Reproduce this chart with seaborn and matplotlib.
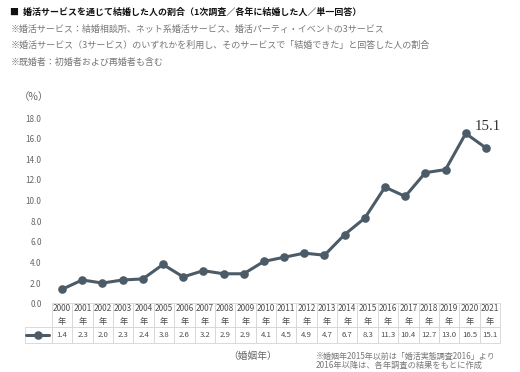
import matplotlib
matplotlib.use("Agg")
import matplotlib.pyplot as plt
import seaborn as sns
import pandas as pd
import numpy as np

years = [2000, 2001, 2002, 2003, 2004, 2005, 2006, 2007, 2008, 2009, 2010,
         2011, 2012, 2013, 2014, 2015, 2016, 2017, 2018, 2019, 2020, 2021]
values = [1.4, 2.3, 2.0, 2.3, 2.4, 3.8, 2.6, 3.2, 2.9, 2.9, 4.1,
          4.5, 4.9, 4.7, 6.7, 8.3, 11.3, 10.4, 12.7, 13.0, 16.5, 15.1]
yticks = [0, 2, 4, 6, 8, 10, 12, 14, 16, 18]

title = "■  婚活サービスを通じて結婚した人の割合（1次調査／各年に結婚した人／単一回答）"
notes = ["※婚活サービス：結婚相談所、ネット系婚活サービス、婚活パーティ・イベントの3サービス",
         "※婚活サービス（3サービス）のいずれかを利用し、そのサービスで「結婚できた」と回答した人の割合",
         "※既婚者：初婚者および再婚者も含む"]
xlabel = "（婚姻年）"
footnote = ["※婚姻年2015年以前は「婚活実態調査2016」より", "2016年以降は、各年調査の結果をもとに作成"]
annot_text = "15.1"
unit_label = "（%）"

sns.set_theme(style="white")
plt.rcParams['font.family'] = ['Noto Sans CJK JP', 'DejaVu Sans']

W, H = 520, 372
fig = plt.figure(figsize=(W / 100, H / 100), dpi=100)
fig.patch.set_facecolor("white")
renderer = fig.canvas.get_renderer()


def fx(px):
    return px / W


def fy(py):
    return 1 - py / H


def fit_size(text, target_px, **kw):
    t = fig.text(0, 0, text, fontsize=10, **kw)
    w = t.get_window_extent(renderer).width
    t.remove()
    return 10 * target_px / w


def put(x0, x1, yc, text, color, **kw):
    fs = fit_size(text, x1 - x0, **kw)
    fig.text(fx(x0), fy(yc), text, fontsize=fs, color=color, ha="left", va="center", **kw)


line_color = "#4b5b67"

# main axes
left_px, right_px = 52, 496
top_px, bottom_px = 118, 303.7
ax = fig.add_axes([fx(left_px), fy(bottom_px), fx(right_px - left_px), (bottom_px - top_px) / H])
df = pd.DataFrame({"idx": np.arange(len(years)), "value": values})
sns.lineplot(data=df, x="idx", y="value", ax=ax, color=line_color, linewidth=2.2,
             marker="o", markersize=6.2, markeredgewidth=0, clip_on=False)
ax.set_xlim(-0.5, len(years) - 0.5)
ax.set_ylim(0, 18)
ax.set_yticks(yticks)
tick_fs = fit_size("18.0", 16)
ax.set_yticklabels([f"{v:.1f}" for v in yticks], fontsize=tick_fs, color="#666666")
ax.set_xticks([])
ax.set_xlabel("")
ax.set_ylabel("")
ax.tick_params(axis="y", length=0, pad=7.5)
sns.despine(ax=ax, left=True, bottom=True)
ax.patch.set_alpha(0)

serif = ["Liberation Serif", "DejaVu Serif"]
ann_fs = fit_size(annot_text, 26, family=serif)
ax.annotate(annot_text, xy=(20.45, 17.15), ha="left", va="center",
            fontsize=ann_fs, color="#333333", family=serif)

# (%) label
fig.text(fx(19), fy(97), unit_label, fontsize=7.5, color="#666666", ha="left", va="center")

# header texts
put(10, 360, 12, title, "#111111", fontweight="bold")
note_ends = [385, 432, 163]
note_ys = [29, 45.5, 62]
for t, xe, yc in zip(notes, note_ends, note_ys):
    put(10.7, xe, yc, t, "#777777")

# data table
tab_left, tab_right = 25, 500
tab_top, tab_bottom = 303, 343
tax = fig.add_axes([fx(tab_left), fy(tab_bottom), fx(tab_right - tab_left), (tab_bottom - tab_top) / H])
tax.axis("off")
first_w = 27
col_w = (tab_right - tab_left - first_w) / len(years)
colWidths = [first_w / (tab_right - tab_left)] + [col_w / (tab_right - tab_left)] * len(years)
cell_text = [[""] + [f"{v:.1f}" for v in values]]
col_labels = [""] + [f"{y}\n年" for y in years]
table = tax.table(cellText=cell_text, colLabels=col_labels, colWidths=colWidths,
                  bbox=[0, 0, 1, 1], cellLoc="center")
table.auto_set_font_size(False)
year_fs = fit_size("2017", 18.3)
val_fs = 5.6
for (r, c), cell in table.get_celld().items():
    cell.set_edgecolor("#d4d4d4")
    cell.set_linewidth(0.6)
    cell.set_height(0.6 if r == 0 else 0.4)
    txt = cell.get_text()
    txt.set_color("#4d4d4d")
    if r == 0:
        txt.set_fontsize(year_fs)
        txt.set_linespacing(1.45)
    else:
        txt.set_fontsize(val_fs)
    if r == 0 and c == 0:
        cell.visible_edges = "open"

# legend symbol in table
x0 = 1 / (tab_right - tab_left)
x1 = (first_w - 3) / (tab_right - tab_left)
tax.set_xlim(0, 1)
tax.set_ylim(0, 1)
tax.plot([x0, (x0 + x1) / 2, x1], [0.2, 0.2, 0.2], color=line_color, linewidth=2.2,
         marker="o", markersize=6.2, markeredgewidth=0, markevery=[1])

# bottom labels
fig.text(fx(228), fy(356), xlabel, fontsize=7, color="#666666", ha="left", va="center")
put(316, 497, 356, footnote[0], "#777777")
put(316, 482, 365, footnote[1], "#777777")

fig.savefig("out.png", dpi=100, facecolor="white")
